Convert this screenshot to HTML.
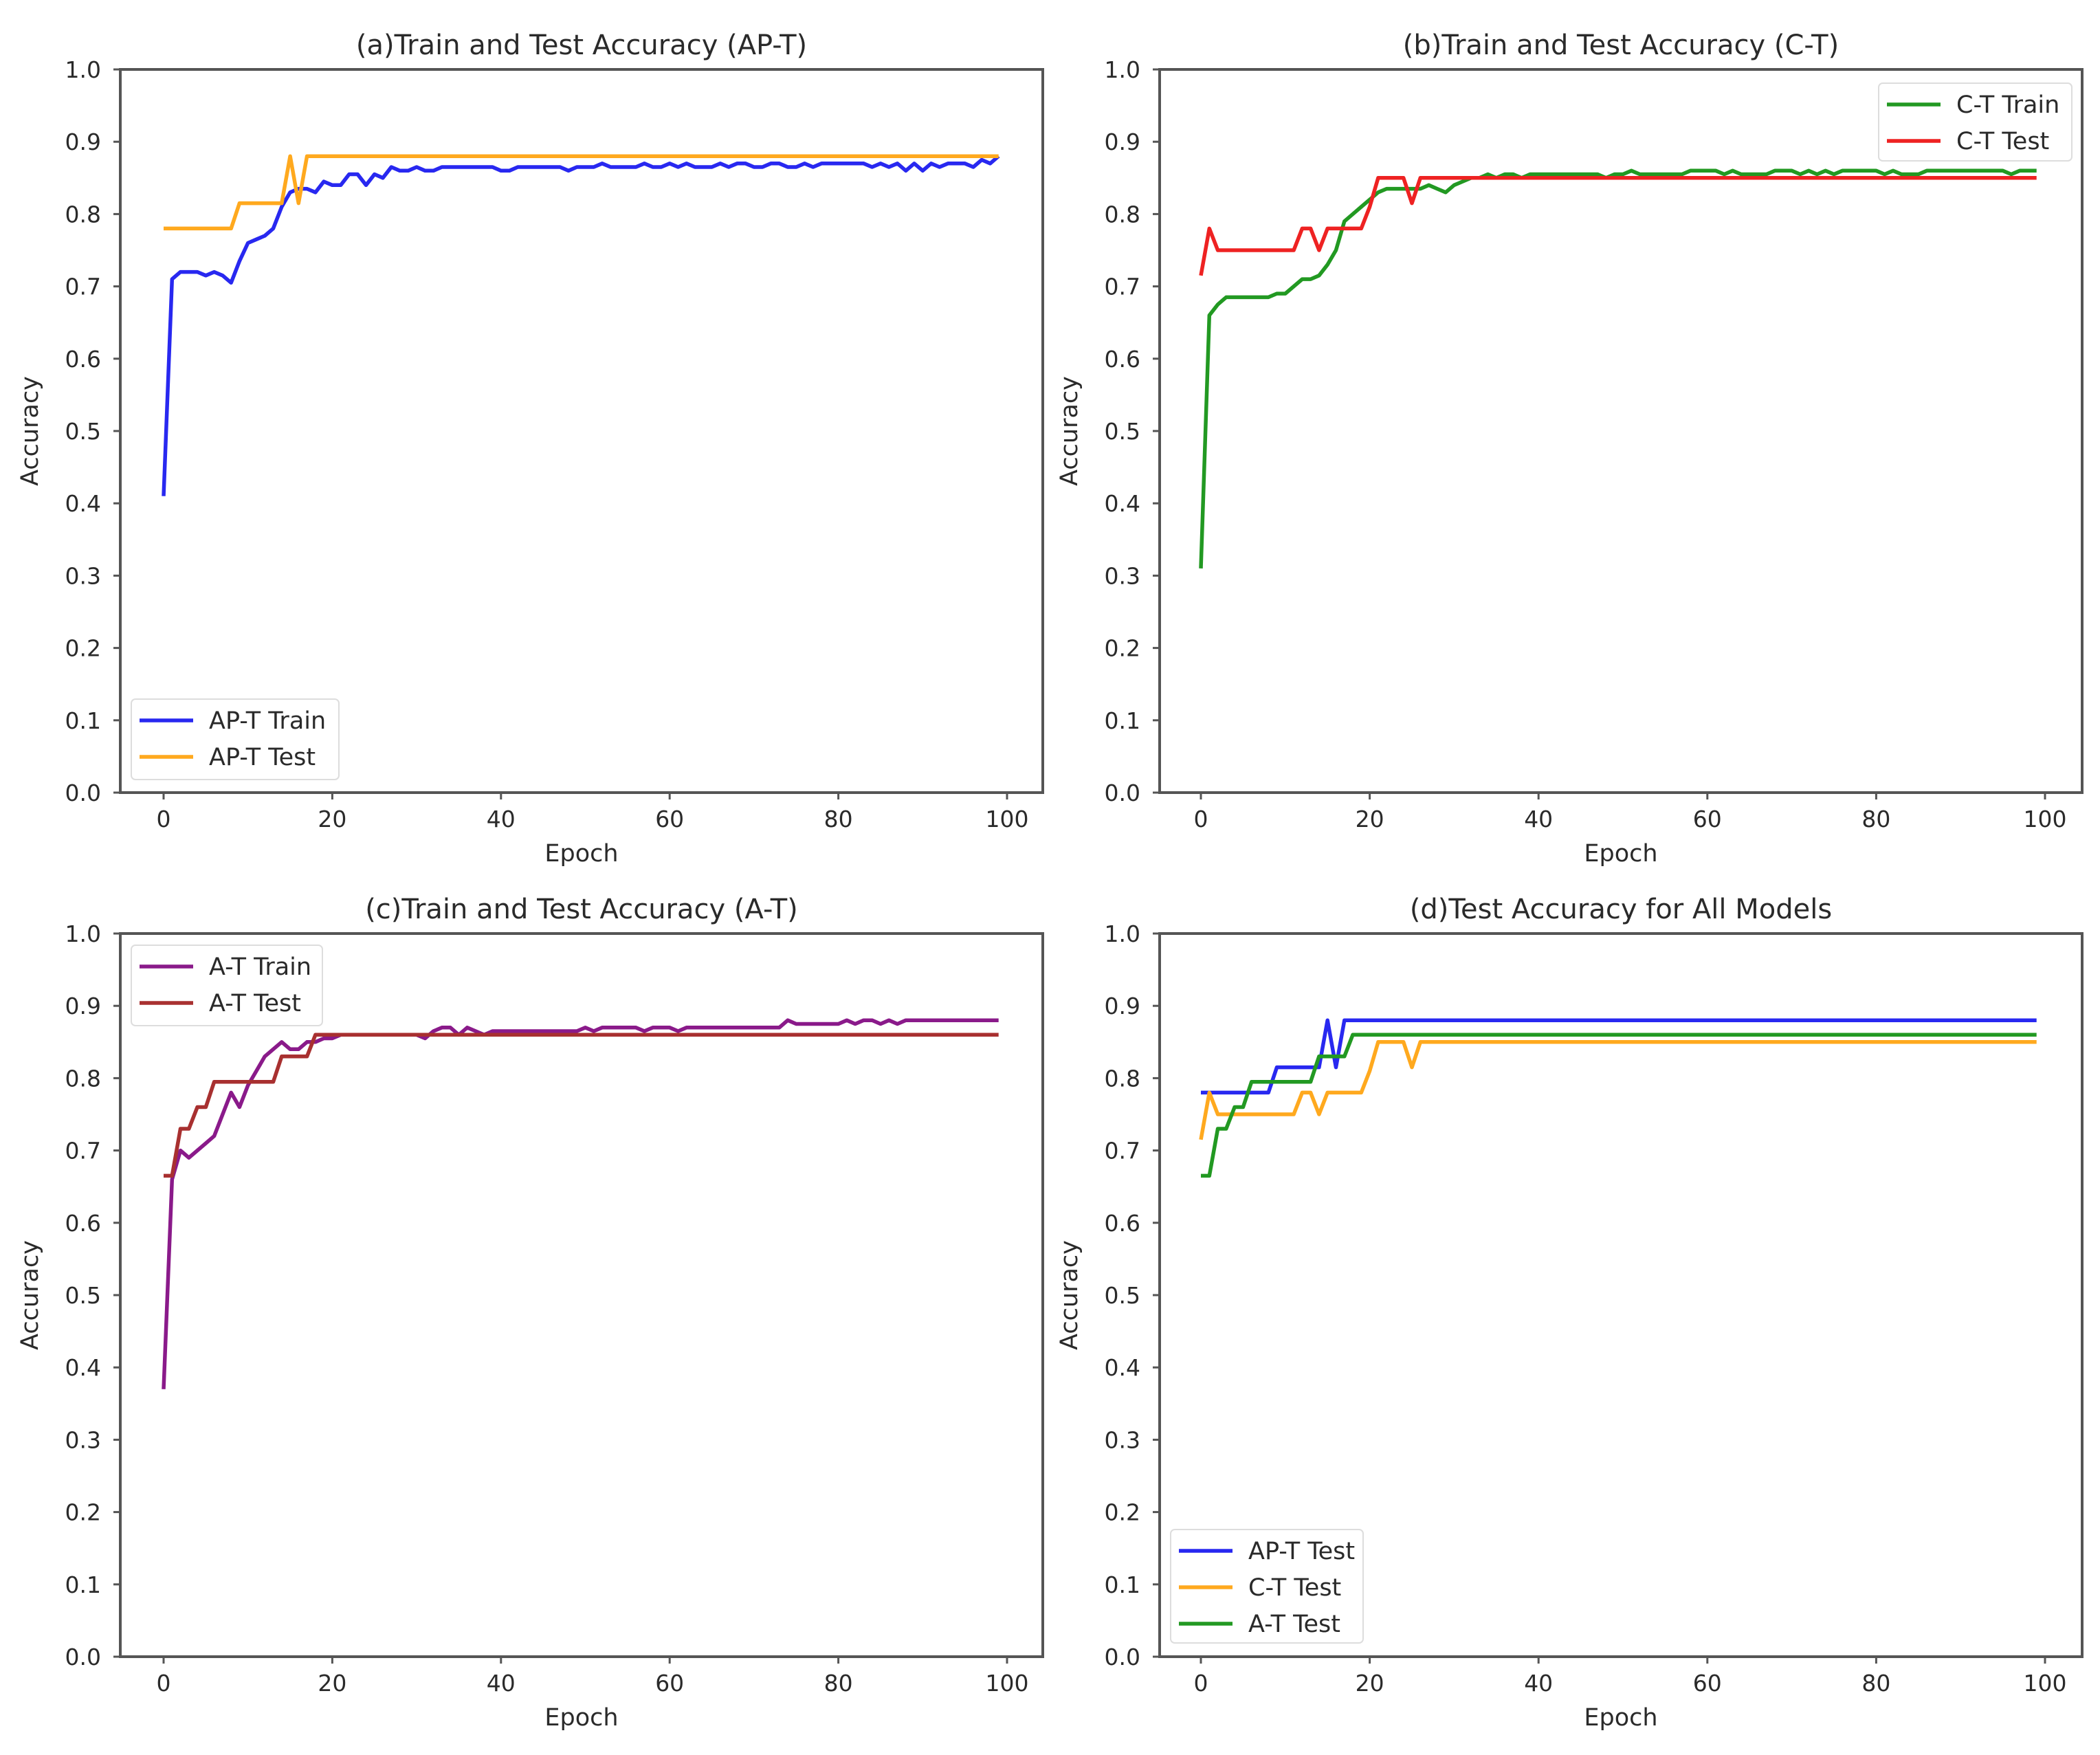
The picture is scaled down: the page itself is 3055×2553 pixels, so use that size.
<!DOCTYPE html>
<html><head><meta charset="utf-8"><style>
body{margin:0;background:#fff}
svg{display:block;font-family:"DejaVu Sans","Liberation Sans",sans-serif}
</style></head><body>
<svg id="chart" xmlns="http://www.w3.org/2000/svg" width="3055" height="2553" viewBox="0 0 3055 2553">
<rect width="3055" height="2553" fill="#fff"/>
</svg>
<script>
const epochs = Array.from({length:100},(_, i)=>i);
const xTicks = [0,20,40,60,80,100];
const yTicks = [0.0,0.1,0.2,0.3,0.4,0.5,0.6,0.7,0.8,0.9,1.0];
const aptTrain = [0.41,0.71,0.72,0.72,0.72,0.715,0.72,0.715,0.705,0.735,
0.76,0.765,0.77,0.78,0.81,0.83,0.835,0.835,0.83,0.845,
0.84,0.84,0.855,0.855,0.84,0.855,0.85,0.865,0.86,0.86,
0.865,0.86,0.86,0.865,0.865,0.865,0.865,0.865,0.865,0.865,
0.86,0.86,0.865,0.865,0.865,0.865,0.865,0.865,0.86,0.865,
0.865,0.865,0.87,0.865,0.865,0.865,0.865,0.87,0.865,0.865,
0.87,0.865,0.87,0.865,0.865,0.865,0.87,0.865,0.87,0.87,
0.865,0.865,0.87,0.87,0.865,0.865,0.87,0.865,0.87,0.87,
0.87,0.87,0.87,0.87,0.865,0.87,0.865,0.87,0.86,0.87,
0.86,0.87,0.865,0.87,0.87,0.87,0.865,0.875,0.87,0.88];
const aptTest = [0.78,0.78,0.78,0.78,0.78,0.78,0.78,0.78,0.78,0.815,
0.815,0.815,0.815,0.815,0.815,0.88,0.815,0.88,0.88,0.88,
0.88,0.88,0.88,0.88,0.88,0.88,0.88,0.88,0.88,0.88,
0.88,0.88,0.88,0.88,0.88,0.88,0.88,0.88,0.88,0.88,
0.88,0.88,0.88,0.88,0.88,0.88,0.88,0.88,0.88,0.88,
0.88,0.88,0.88,0.88,0.88,0.88,0.88,0.88,0.88,0.88,
0.88,0.88,0.88,0.88,0.88,0.88,0.88,0.88,0.88,0.88,
0.88,0.88,0.88,0.88,0.88,0.88,0.88,0.88,0.88,0.88,
0.88,0.88,0.88,0.88,0.88,0.88,0.88,0.88,0.88,0.88,
0.88,0.88,0.88,0.88,0.88,0.88,0.88,0.88,0.88,0.88];
const ctTrain = [0.31,0.66,0.675,0.685,0.685,0.685,0.685,0.685,0.685,0.69,
0.69,0.7,0.71,0.71,0.715,0.73,0.75,0.79,0.8,0.81,
0.82,0.83,0.835,0.835,0.835,0.835,0.835,0.84,0.835,0.83,
0.84,0.845,0.85,0.85,0.855,0.85,0.855,0.855,0.85,0.855,
0.855,0.855,0.855,0.855,0.855,0.855,0.855,0.855,0.85,0.855,
0.855,0.86,0.855,0.855,0.855,0.855,0.855,0.855,0.86,0.86,
0.86,0.86,0.855,0.86,0.855,0.855,0.855,0.855,0.86,0.86,
0.86,0.855,0.86,0.855,0.86,0.855,0.86,0.86,0.86,0.86,
0.86,0.855,0.86,0.855,0.855,0.855,0.86,0.86,0.86,0.86,
0.86,0.86,0.86,0.86,0.86,0.86,0.855,0.86,0.86,0.86];
const ctTest = [0.715,0.78,0.75,0.75,0.75,0.75,0.75,0.75,0.75,0.75,
0.75,0.75,0.78,0.78,0.75,0.78,0.78,0.78,0.78,0.78,
0.81,0.85,0.85,0.85,0.85,0.815,0.85,0.85,0.85,0.85,
0.85,0.85,0.85,0.85,0.85,0.85,0.85,0.85,0.85,0.85,
0.85,0.85,0.85,0.85,0.85,0.85,0.85,0.85,0.85,0.85,
0.85,0.85,0.85,0.85,0.85,0.85,0.85,0.85,0.85,0.85,
0.85,0.85,0.85,0.85,0.85,0.85,0.85,0.85,0.85,0.85,
0.85,0.85,0.85,0.85,0.85,0.85,0.85,0.85,0.85,0.85,
0.85,0.85,0.85,0.85,0.85,0.85,0.85,0.85,0.85,0.85,
0.85,0.85,0.85,0.85,0.85,0.85,0.85,0.85,0.85,0.85];
const atTrain = [0.37,0.66,0.7,0.69,0.7,0.71,0.72,0.75,0.78,0.76,
0.79,0.81,0.83,0.84,0.85,0.84,0.84,0.85,0.85,0.855,
0.855,0.86,0.86,0.86,0.86,0.86,0.86,0.86,0.86,0.86,
0.86,0.855,0.865,0.87,0.87,0.86,0.87,0.865,0.86,0.865,
0.865,0.865,0.865,0.865,0.865,0.865,0.865,0.865,0.865,0.865,
0.87,0.865,0.87,0.87,0.87,0.87,0.87,0.865,0.87,0.87,
0.87,0.865,0.87,0.87,0.87,0.87,0.87,0.87,0.87,0.87,
0.87,0.87,0.87,0.87,0.88,0.875,0.875,0.875,0.875,0.875,
0.875,0.88,0.875,0.88,0.88,0.875,0.88,0.875,0.88,0.88,
0.88,0.88,0.88,0.88,0.88,0.88,0.88,0.88,0.88,0.88];
const atTest = [0.665,0.665,0.73,0.73,0.76,0.76,0.795,0.795,0.795,0.795,
0.795,0.795,0.795,0.795,0.83,0.83,0.83,0.83,0.86,0.86,
0.86,0.86,0.86,0.86,0.86,0.86,0.86,0.86,0.86,0.86,
0.86,0.86,0.86,0.86,0.86,0.86,0.86,0.86,0.86,0.86,
0.86,0.86,0.86,0.86,0.86,0.86,0.86,0.86,0.86,0.86,
0.86,0.86,0.86,0.86,0.86,0.86,0.86,0.86,0.86,0.86,
0.86,0.86,0.86,0.86,0.86,0.86,0.86,0.86,0.86,0.86,
0.86,0.86,0.86,0.86,0.86,0.86,0.86,0.86,0.86,0.86,
0.86,0.86,0.86,0.86,0.86,0.86,0.86,0.86,0.86,0.86,
0.86,0.86,0.86,0.86,0.86,0.86,0.86,0.86,0.86,0.86];

const NS="http://www.w3.org/2000/svg";
const svg=document.getElementById('chart');
function mk(tag,attrs,parent,text){const e=document.createElementNS(NS,tag);for(const k in attrs)e.setAttribute(k,attrs[k]);if(text!==undefined)e.textContent=text;parent.appendChild(e);return e;}

const panels=[
 {id:'a',title:'(a)Train and Test Accuracy (AP-T)',L:175,R:1517,T:101,B:1153,x0:238,x100:1465,
  series:[{n:'AP-T Train',d:aptTrain,c:'#2828f0'},{n:'AP-T Test',d:aptTest,c:'#ffa91e'}],
  leg:{x:191,y:1017,w:302,h:117}},
 {id:'b',title:'(b)Train and Test Accuracy (C-T)',L:1687,R:3029,T:101,B:1153,x0:1747,x100:2975,
  series:[{n:'C-T Train',d:ctTrain,c:'#229922'},{n:'C-T Test',d:ctTest,c:'#ee2222'}],
  leg:{x:2733,y:121,w:281,h:113}},
 {id:'c',title:'(c)Train and Test Accuracy (A-T)',L:175,R:1517,T:1358,B:2410,x0:238,x100:1465,
  series:[{n:'A-T Train',d:atTrain,c:'#8a1a8a'},{n:'A-T Test',d:atTest,c:'#a83030'}],
  leg:{x:191,y:1375,w:278,h:117}},
 {id:'d',title:'(d)Test Accuracy for All Models',L:1687,R:3029,T:1358,B:2410,x0:1747,x100:2975,
  series:[{n:'AP-T Test',d:aptTest,c:'#2828f0'},{n:'C-T Test',d:ctTest,c:'#ffa91e'},{n:'A-T Test',d:atTest,c:'#229922'}],
  leg:{x:1703,y:2225,w:280,h:165}}
];
const tc='#2a2a2a';
panels.forEach(p=>{
 const g=mk('g',{},svg);
 
 
 const xs=v=>p.x0+(p.x100-p.x0)*v/100;
 const ys=v=>p.B-(p.B-p.T)*v;
 const t=mk('text',{x:(p.L+p.R)/2,y:p.T-22,'text-anchor':'middle','font-size':40,fill:tc},g,p.title);
 
 
 yTicks.forEach(v=>{
  mk('line',{x1:p.L-10,x2:p.L,y1:ys(v),y2:ys(v),stroke:'#555','stroke-width':3},g);
  const tl=mk('text',{x:p.L-28,y:ys(v)+12,'text-anchor':'end','font-size':33,fill:tc},g,v.toFixed(1));
  
  
 });
 xTicks.forEach(v=>{
  mk('line',{x1:xs(v),x2:xs(v),y1:p.B,y2:p.B+10,stroke:'#555','stroke-width':3},g);
  const tl=mk('text',{x:xs(v),y:p.B+50,'text-anchor':'middle','font-size':33,fill:tc},g,String(v));
  
  
 });
 const xl=mk('text',{x:(p.L+p.R)/2,y:p.B+100,'text-anchor':'middle','font-size':35,fill:tc},g,'Epoch');
 
 
 const yx=p.L-120,yy=(p.T+p.B)/2;
 const yl=mk('text',{x:yx,y:yy,'text-anchor':'middle','font-size':35,fill:tc,transform:`rotate(-90 ${yx} ${yy})`},g,'Accuracy');
 
 
 p.series.forEach(s=>{
  const pts=s.d.map((v,i)=>xs(epochs[i]).toFixed(1)+','+ys(v).toFixed(1)).join(' ');
  const pl=mk('polyline',{points:pts,fill:'none',stroke:s.c,'stroke-width':5.5,'stroke-linejoin':'round'},g);
  
  
 });
 const fr=mk('rect',{x:p.L,y:p.T,width:p.R-p.L,height:p.B-p.T,fill:'none',stroke:'#555','stroke-width':4},g);
 
 
 const lg=mk('g',{},g);
 
 
 mk('rect',{x:p.leg.x,y:p.leg.y,width:p.leg.w,height:p.leg.h,rx:6,fill:'#fff','fill-opacity':0.85,stroke:'#ddd','stroke-width':2},lg);
 p.series.forEach((s,i)=>{
  const cy=p.leg.y+31+i*53;
  mk('line',{x1:p.leg.x+12,x2:p.leg.x+90,y1:cy,y2:cy,stroke:s.c,'stroke-width':5.5},lg);
  const lt=mk('text',{x:p.leg.x+113,y:cy+12,'font-size':35,fill:tc},lg,s.n);
  
  
 });
});
</script>
</body></html>
